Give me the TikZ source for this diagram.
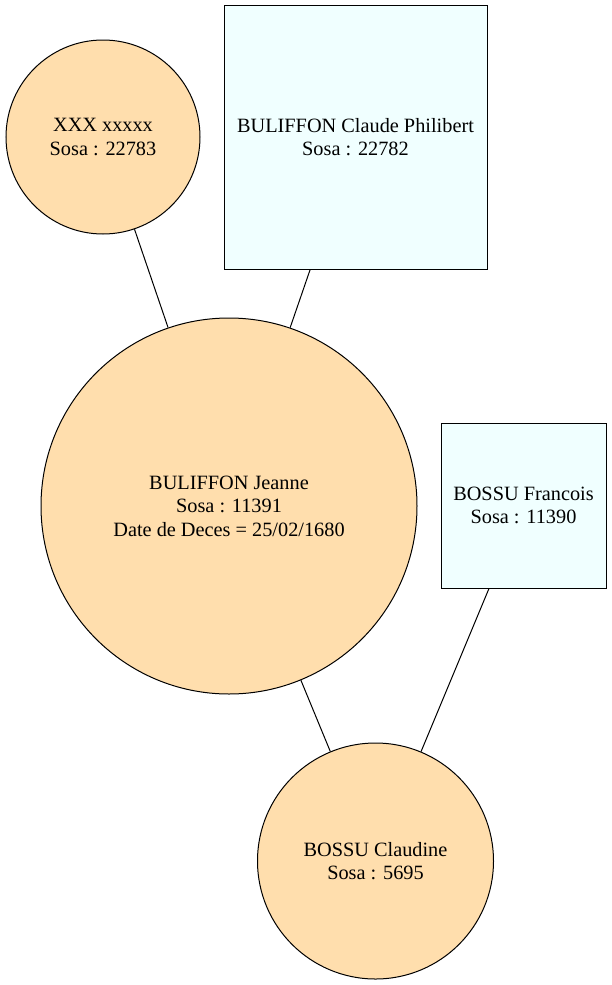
\documentclass[tikz,border=0pt]{standalone}
\usepackage{fontspec}
\setmainfont{Liberation Serif}
\usepackage{tikz}
\definecolor{personne}{RGB}{255,222,173}
\definecolor{conjoint}{RGB}{240,255,255}
\tikzset{every picture/.append style={x=1pt,y=-1pt},
                    femme/.style={circle,draw,line width=1pt,fill=personne,align=center,inner sep=0pt},   % femmes en rond
                    homme/.style={rectangle,draw,line width=1pt,fill=conjoint,align=center,inner sep=0pt}, % hommes en carre
                    lien/.style={line width=1pt}
    }
\begin{document}
\begin{tikzpicture}[font=\fontsize{20.3}{23.5}\selectfont]
                \useasboundingbox[fill=white] (0,0) rectangle (612,985);
                    \node[femme,minimum size=194] (xxx) at (103,137) {XXX xxxxx\\Sosa : 22783};
                    \node[homme,minimum width=263,minimum height=264] (claude) at (355.5,137) {BULIFFON Claude Philibert\\Sosa : 22782};
                    \node[femme,minimum size=376] (jeanne) at (229,506) {BULIFFON Jeanne\\Sosa : 11391\\Date de Deces = 25/02/1680};
                    \node[homme,minimum size=165] (francois) at (523.5,505.5) {BOSSU Francois\\Sosa : 11390};
                    \node[femme,minimum size=236] (claudine) at (375.5,861) {BOSSU Claudine\\Sosa : 5695};
                    \draw[lien] (xxx)--(jeanne);
                    \draw[lien] (claude)--(jeanne);
                    \draw[lien] (jeanne)--(claudine);
                    \draw[lien] (francois)--(claudine);
                \end{tikzpicture}
\end{document}
